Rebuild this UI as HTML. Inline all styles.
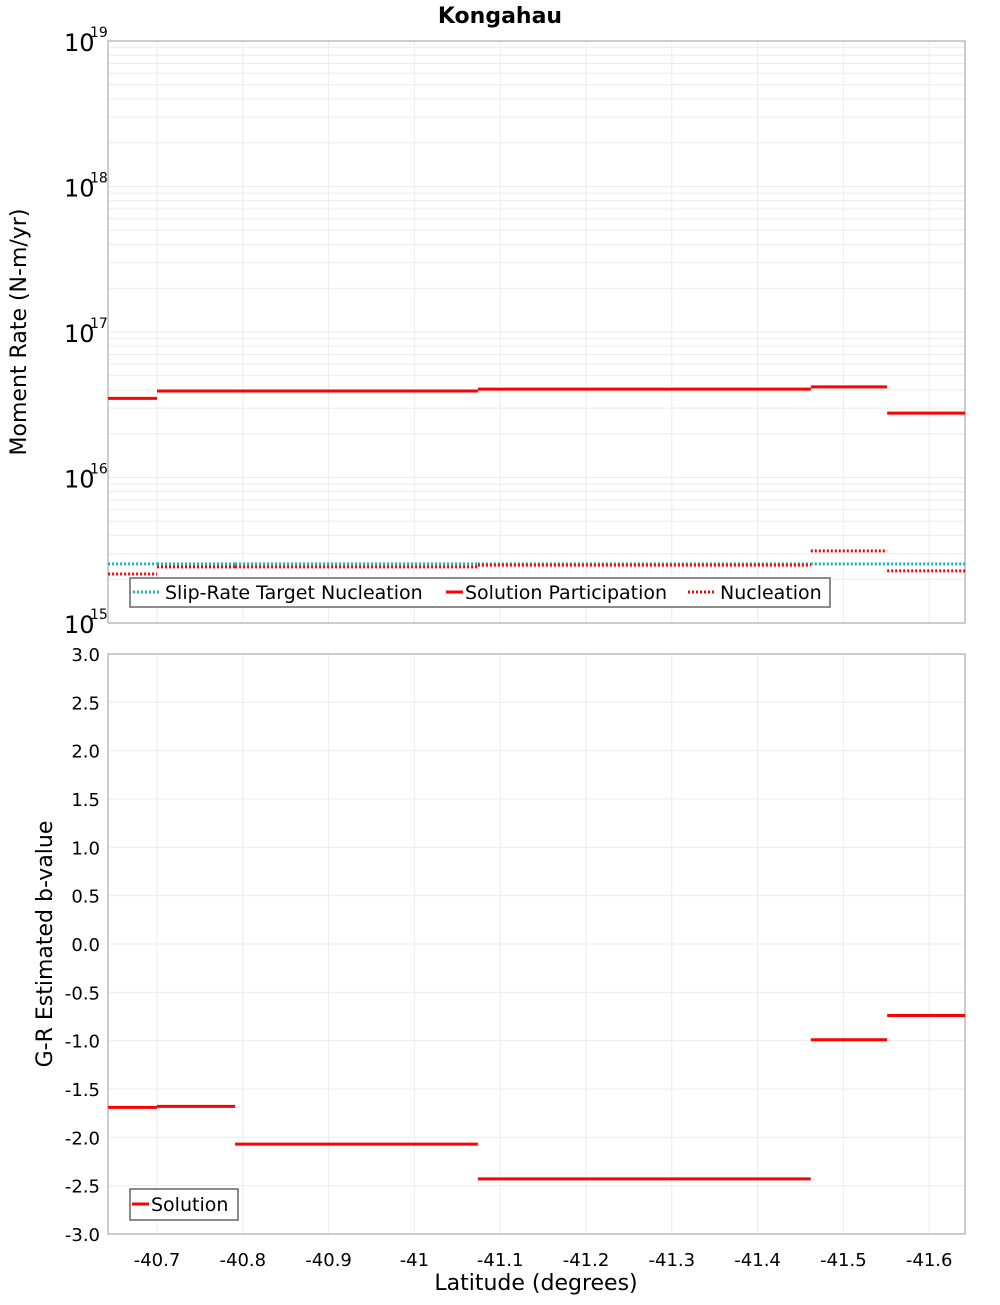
<!DOCTYPE html>
<html><head><meta charset="utf-8"><style>body{margin:0;background:#fff}svg text{font-family:"DejaVu Sans","Liberation Sans",sans-serif}</style></head>
<body>
<svg id="c" width="1000" height="1300" xmlns="http://www.w3.org/2000/svg">
<text x="500" y="23" text-anchor="middle" font-size="22" font-weight="bold">Kongahau</text>
<text transform="translate(26,332) rotate(-90)" text-anchor="middle" font-size="22">Moment Rate (N-m/yr)</text>
<text transform="translate(52,944) rotate(-90)" text-anchor="middle" font-size="22">G-R Estimated b-value</text>
<text x="536" y="1290" text-anchor="middle" font-size="22">Latitude (degrees)</text>
<g id="top"></g><g id="bot"></g>
</svg>
<script>
const segStart=[-40.643,-40.7,-40.791,-41.074,-41.462,-41.551];
const segEnd=[-40.7,-40.791,-41.074,-41.462,-41.551,-41.642];
const participation=[3.5e16,3.93e16,3.93e16,4.05e16,4.2e16,2.77e16];
const targetNucl=[2.55e15,2.55e15,2.55e15,2.55e15,2.55e15,2.55e15];
const nucleation=[2.17e15,2.43e15,2.43e15,2.5e15,3.13e15,2.28e15];
const bValue=[-1.69,-1.68,-2.07,-2.43,-0.99,-0.74];
const xTicks=[-40.7,-40.8,-40.9,-41,-41.1,-41.2,-41.3,-41.4,-41.5,-41.6];
const xTickLabels=["-40.7","-40.8","-40.9","-41","-41.1","-41.2","-41.3","-41.4","-41.5","-41.6"];
const bTicks=[3,2.5,2,1.5,1,0.5,0,-0.5,-1,-1.5,-2,-2.5,-3];
const decades=[15,16,17,18,19];
const NS="http://www.w3.org/2000/svg";
const L=108,R=965,T1=41,B1=623,T2=654,B2=1234;
const X=v=>157+(-40.7-v)*858;
const Y1=v=>B1-(Math.log10(v)-15)*(B1-T1)/4;
const Y2=v=>T2+(3-v)*(B2-T2)/6;
function el(p,t,a){const e=document.createElementNS(NS,t);for(const k in a)e.setAttribute(k,a[k]);p.appendChild(e);return e;}
const topG=document.getElementById('top'),botG=document.getElementById('bot');
el(topG,'rect',{x:L,y:T1,width:R-L,height:B1-T1,fill:'#fff',stroke:'#999'});
el(botG,'rect',{x:L,y:T2,width:R-L,height:B2-T2,fill:'#fff',stroke:'#999'});
for(let d=15;d<19;d++)for(let m=1;m<10;m++){const y=Y1(m*Math.pow(10,d));
 const g=el(topG,'line',{x1:L,x2:R,y1:y,y2:y,stroke:'#ebebeb'});
 
 }
xTicks.forEach((v,i)=>{const x=X(v);
 let g=el(topG,'line',{x1:x,x2:x,y1:T1,y2:B1,stroke:'#ebebeb'});
 
 
 g=el(botG,'line',{x1:x,x2:x,y1:T2,y2:B2,stroke:'#ebebeb'});
 
 
 const t=el(botG,'text',{x:x,y:B2+32,'text-anchor':'middle','font-size':18});t.textContent=xTickLabels[i];
 
 });
bTicks.forEach(v=>{const y=Y2(v);
 const g=el(botG,'line',{x1:L,x2:R,y1:y,y2:y,stroke:'#ebebeb'});
 
 
 const t=el(botG,'text',{x:100,y:y+7,'text-anchor':'end','font-size':18});t.textContent=v.toFixed(1);
 
 });
decades.forEach(d=>{const y=Y1(Math.pow(10,d));
 const t=el(topG,'text',{x:64,y:y+10,'font-size':24});t.textContent='10';
 
 
 const s=el(topG,'text',{x:90,y:y-4,'font-size':14});s.textContent=String(d);
 
 });
el(topG,'rect',{x:L,y:T1,width:R-L,height:B1-T1,fill:'none',stroke:'#999'});
el(botG,'rect',{x:L,y:T2,width:R-L,height:B2-T2,fill:'none',stroke:'#999'});
function series(p,vals,Y,color,dash,name){vals.forEach((v,i)=>{
 const a={x1:X(segStart[i]),x2:X(segEnd[i]),y1:Y(v),y2:Y(v),stroke:color,'stroke-width':3};if(dash)a['stroke-dasharray']='2,2';
 const l=el(p,'line',a);
 
 });}
series(topG,targetNucl,Y1,'#1fb3b3',true,'target-nucleation-segment');
series(topG,nucleation,Y1,'#f00',true,'nucleation-segment');
series(topG,participation,Y1,'#f00',false,'participation-segment');
series(botG,bValue,Y2,'#f00',false,'b-value-segment');
const lg=el(topG,'g',{});


el(lg,'rect',{x:130,y:578,width:700,height:29,fill:'#fff',stroke:'#666','stroke-width':1.5});
el(lg,'line',{x1:133,x2:160,y1:592,y2:592,stroke:'#1fb3b3','stroke-width':3,'stroke-dasharray':'2,2'});
let t=el(lg,'text',{x:165,y:599,'font-size':19});t.textContent='Slip-Rate Target Nucleation';
el(lg,'line',{x1:446,x2:463,y1:592,y2:592,stroke:'#f00','stroke-width':3});
t=el(lg,'text',{x:465,y:599,'font-size':19});t.textContent='Solution Participation';
el(lg,'line',{x1:688,x2:716,y1:592,y2:592,stroke:'#f00','stroke-width':3,'stroke-dasharray':'2,2'});
t=el(lg,'text',{x:720,y:599,'font-size':19});t.textContent='Nucleation';
const lb=el(botG,'g',{});


el(lb,'rect',{x:130,y:1189,width:108,height:31,fill:'#fff',stroke:'#666','stroke-width':1.5});
el(lb,'line',{x1:132,x2:149,y1:1204,y2:1204,stroke:'#f00','stroke-width':3});
t=el(lb,'text',{x:151,y:1211,'font-size':19});t.textContent='Solution';
</script>
</body></html>
